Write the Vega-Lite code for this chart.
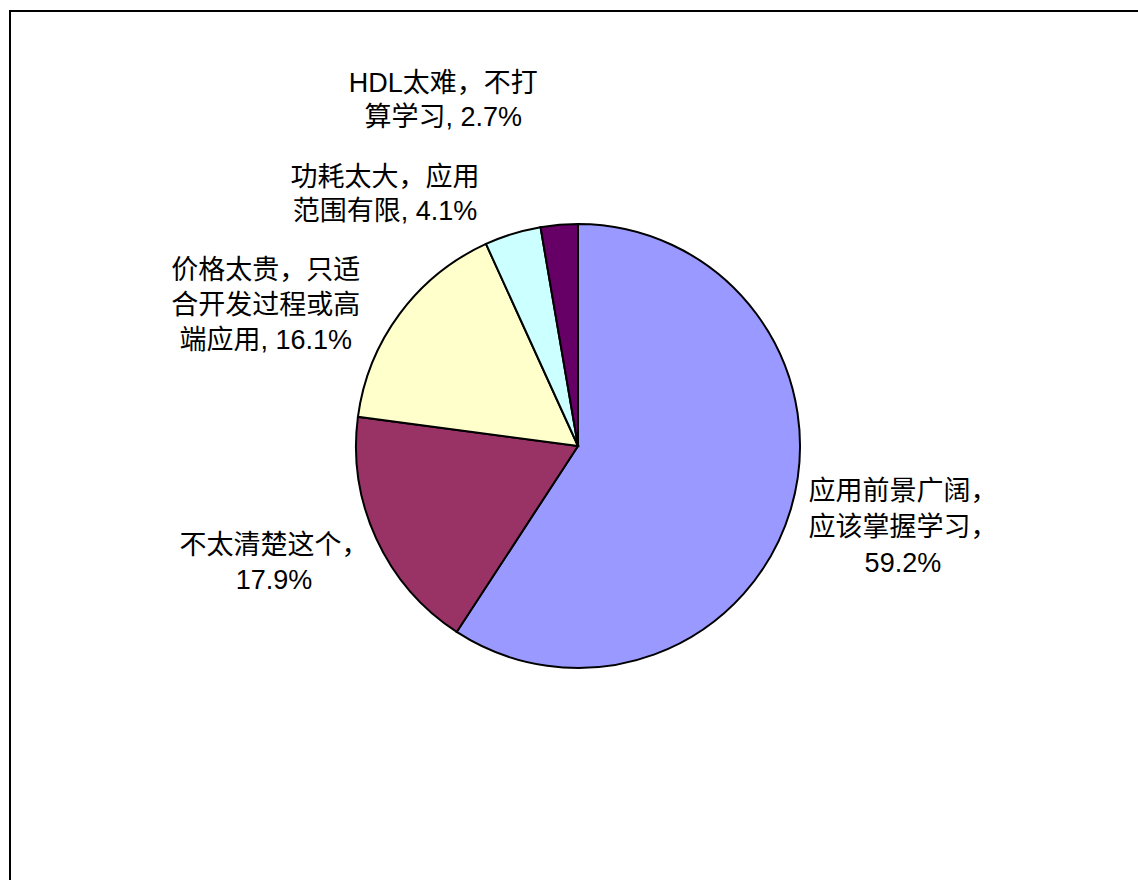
{
  "$schema": "https://vega.github.io/schema/vega-lite/v6.json",
  "width": 1136,
  "height": 870,
  "autosize": "none",
  "padding": {"left": 10, "top": 11, "right": 0, "bottom": 0},
  "background": "white",
  "view": {"stroke": "black", "strokeWidth": 2, "fill": "white"},
  "config": {
    "view": {"stroke": "black", "strokeWidth": 2},
    "text": {"font": "Liberation Sans, Noto Sans CJK SC", "fontSize": 27, "fill": "black"}
  },
  "data": {
    "values": [
      {"category": "应用前景广阔，\n应该掌握学习，\n59.2%", "value": 59.2},
      {"category": "不太清楚这个，\n17.9%", "value": 17.9},
      {"category": "价格太贵，只适\n合开发过程或高\n端应用, 16.1%", "value": 16.1},
      {"category": "功耗太大，应用\n范围有限, 4.1%", "value": 4.1},
      {"category": "HDL太难，不打\n算学习, 2.7%", "value": 2.7}
    ]
  },
  "transform": [{"window": [{"op": "row_number", "as": "i"}]}],
  "encoding": {
    "theta": {"field": "value", "type": "quantitative", "stack": true},
    "order": {"field": "i", "type": "quantitative"}
  },
  "layer": [
    {
      "mark": {"type": "arc", "outerRadius": 222, "stroke": "black", "strokeWidth": 2},
      "encoding": {
        "color": {
          "field": "category",
          "type": "nominal",
          "legend": null,
          "scale": {
            "domain": ["应用前景广阔，\n应该掌握学习，\n59.2%", "不太清楚这个，\n17.9%", "价格太贵，只适\n合开发过程或高\n端应用, 16.1%", "功耗太大，应用\n范围有限, 4.1%", "HDL太难，不打\n算学习, 2.7%"],
            "range": ["#9999FF", "#993366", "#FFFFCC", "#CCFFFF", "#660066"]
          }
        }
      }
    },
    {
      "mark": {"type": "text", "radius": 340, "dx": -1, "dy": -51, "lineBreak": "\n", "lineHeight": 36, "align": "center", "baseline": "middle"},
      "encoding": {"text": {"condition": {"test": "datum.i == 1", "field": "category"}, "value": ""}}
    },
    {
      "mark": {"type": "text", "radius": 340, "dx": 5, "dy": -42, "lineBreak": "\n", "lineHeight": 35, "align": "center", "baseline": "middle"},
      "encoding": {"text": {"condition": {"test": "datum.i == 2", "field": "category"}, "value": ""}}
    },
    {
      "mark": {"type": "text", "radius": 340, "dx": -39, "dy": 27, "lineBreak": "\n", "lineHeight": 35, "align": "center", "baseline": "middle"},
      "encoding": {"text": {"condition": {"test": "datum.i == 3", "field": "category"}, "value": ""}}
    },
    {
      "mark": {"type": "text", "radius": 340, "dx": -93, "dy": 57, "lineBreak": "\n", "lineHeight": 34, "align": "center", "baseline": "middle"},
      "encoding": {"text": {"condition": {"test": "datum.i == 4", "field": "category"}, "value": ""}}
    },
    {
      "mark": {"type": "text", "radius": 340, "dx": -106, "dy": -23, "lineBreak": "\n", "lineHeight": 34, "align": "center", "baseline": "middle"},
      "encoding": {"text": {"condition": {"test": "datum.i == 5", "field": "category"}, "value": ""}}
    }
  ]
}
